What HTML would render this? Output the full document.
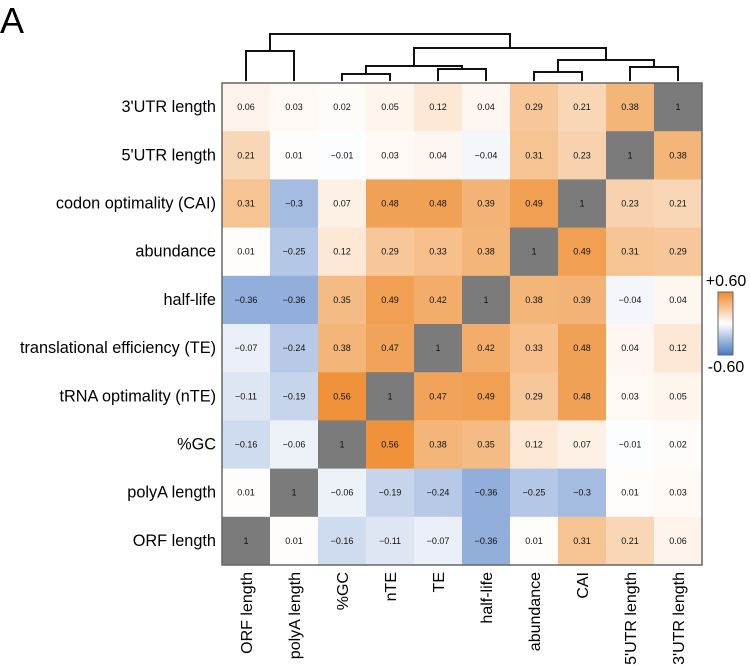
<!DOCTYPE html>
<html><head><meta charset="utf-8"><style>
body{margin:0;background:#fff;width:750px;height:667px;overflow:hidden}
svg{font-family:"Liberation Sans",Arial,sans-serif}
</style></head><body>
<svg id="c" width="750" height="667"></svg>
<script>
const rowLabels=["3'UTR length","5'UTR length","codon optimality (CAI)","abundance","half-life","translational efficiency (TE)","tRNA optimality (nTE)","%GC","polyA length","ORF length"];
const colLabels=["ORF length","polyA length","%GC","nTE","TE","half-life","abundance","CAI","5'UTR length","3'UTR length"];
const values=[
[0.06,0.03,0.02,0.05,0.12,0.04,0.29,0.21,0.38,1],
[0.21,0.01,-0.01,0.03,0.04,-0.04,0.31,0.23,1,0.38],
[0.31,-0.3,0.07,0.48,0.48,0.39,0.49,1,0.23,0.21],
[0.01,-0.25,0.12,0.29,0.33,0.38,1,0.49,0.31,0.29],
[-0.36,-0.36,0.35,0.49,0.42,1,0.38,0.39,-0.04,0.04],
[-0.07,-0.24,0.38,0.47,1,0.42,0.33,0.48,0.04,0.12],
[-0.11,-0.19,0.56,1,0.47,0.49,0.29,0.48,0.03,0.05],
[-0.16,-0.06,1,0.56,0.38,0.35,0.12,0.07,-0.01,0.02],
[0.01,1,-0.06,-0.19,-0.24,-0.36,-0.25,-0.3,0.01,0.03],
[1,0.01,-0.16,-0.11,-0.07,-0.36,0.01,0.31,0.21,0.06]];
const legendTicks=["+0.60","-0.60"];
const merges=[[0,1,51,81,81],[2,3,74,81,81],[4,5,69,81,81],[2.5,4.5,66,74,69],[6,7,72,81,81],[8,9,67,81,81],[6.5,8.5,60,72,67],[3.5,7.5,48,66,60],[0.5,5.5,34,51,48]];
const NS="http://www.w3.org/2000/svg",svg=document.getElementById('c');
const X0=222,Y0=83,CW=48,RH=48.2;
const cx=i=>X0+CW*i+CW/2, ry=j=>Y0+RH*j;
function mk(t,a,p){const e=document.createElementNS(NS,t);for(const k in a)e.setAttribute(k,a[k]);(p||svg).appendChild(e);return e;}
function col(v){
 if(v>=1)return"#7b7b7b";
 const t=Math.min(Math.abs(v)/0.6,1);
 const e=v>=0?[238,138,44]:[74,120,194];
 return`rgb(${Math.round(255+(e[0]-255)*t)},${Math.round(255+(e[1]-255)*t)},${Math.round(255+(e[2]-255)*t)})`;
}
let tx=mk('text',{x:0,y:33,'font-size':36});tx.textContent='A';


values.forEach((row,j)=>row.forEach((v,i)=>{
 const r=mk('rect',{x:X0+CW*i,y:ry(j),width:CW+0.5,height:RH+0.5,fill:col(v)});
 
 
 const t=mk('text',{x:cx(i),y:ry(j)+RH/2+3,'font-size':9,'text-anchor':'middle',fill:'#111'});
 t.textContent=String(v).replace('-','\u2212');
 
 
}));
const b=mk('rect',{x:X0,y:Y0,width:CW*10,height:RH*10,fill:'none',stroke:'#666','stroke-width':1.5});


rowLabels.forEach((l,j)=>{const t=mk('text',{x:216,y:ry(j)+RH/2+5,'font-size':16.3,'text-anchor':'end'});t.textContent=l;
 
 });
colLabels.forEach((l,i)=>{const t=mk('text',{x:0,y:0,'font-size':16,'text-anchor':'end',transform:`translate(${cx(i)+6},572) rotate(-90)`});t.textContent=l;
 
 });
const px=p=>X0+CW*p+CW/2;
merges.forEach(m=>{const p=mk('path',{d:`M${px(m[0])},${m[3]}V${m[2]}H${px(m[1])}V${m[4]}`,fill:'none',stroke:'#111','stroke-width':2});
 
 });
const defs=mk('defs',{});const g=mk('linearGradient',{id:'lg',x1:0,y1:0,x2:0,y2:1},defs);
[[0,col(0.6)],[0.5,'#fff'],[1,col(-0.6)]].forEach(s=>mk('stop',{offset:s[0],'stop-color':s[1]},g));
const cb=mk('rect',{x:718,y:292,width:15,height:63,fill:'url(#lg)',stroke:'#666','stroke-width':1});


legendTicks.forEach((l,k)=>{const t=mk('text',{x:726,y:k?372:286,'font-size':16,'text-anchor':'middle'});t.textContent=l;
 
 });
</script>
</body></html>
